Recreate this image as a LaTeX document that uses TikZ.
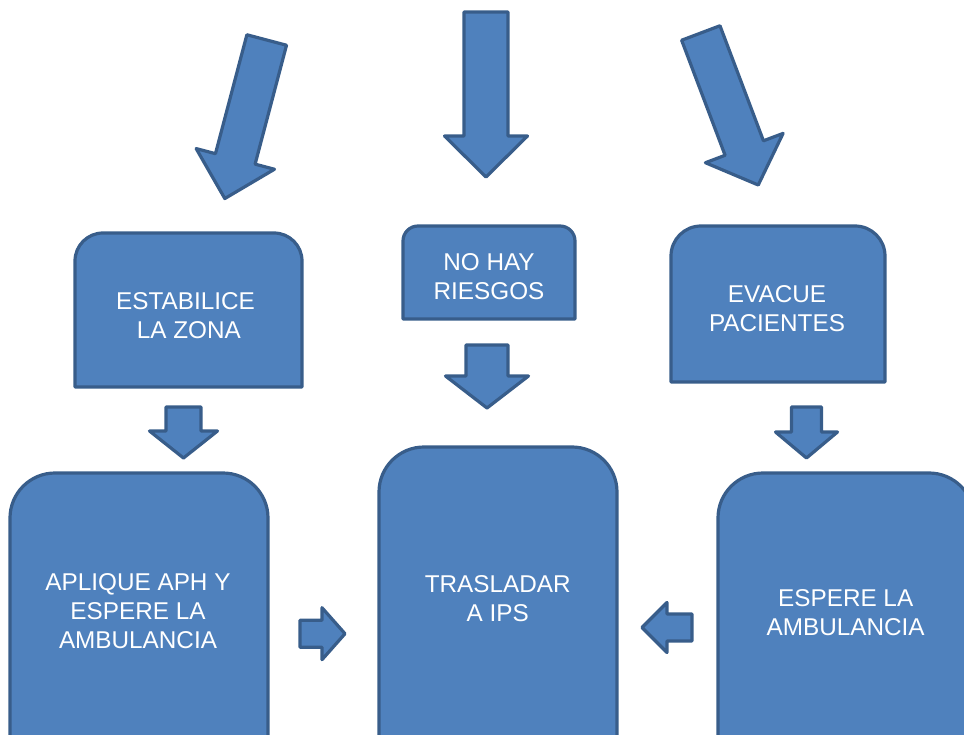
\documentclass[tikz,border=0pt]{standalone}
\usepackage{fontspec}
\setmainfont{Liberation Sans}
\definecolor{boxfill}{HTML}{4F81BD}
\definecolor{boxline}{HTML}{385D8A}
\tikzset{
  shapesty/.style={fill=boxfill, draw=boxline, line width=3.2pt, line join=round},
  boxtext/.style={text=white, font=\fontsize{24.3}{29}\selectfont, align=center, inner sep=0pt},
}
% box with rounded top corners: x1, y1 (top), x2, y2 (bottom), radius
\newcommand{\TRBox}[5]{\draw[shapesty] (#1,#4) -- (#1,#2+#5) arc[start angle=180,end angle=270,radius=#5] -- (#3-#5,#2) arc[start angle=270,end angle=360,radius=#5] -- (#3,#4) -- cycle;}
% block arrow: tail centre x, y, rotation, length, shaft width, head length, head width
\newcommand{\BArrow}[7]{\draw[shapesty, shift={(#1,#2)}, rotate=#3] (-#5/2,0) -- (-#5/2,#4-#6) -- (-#7/2,#4-#6) -- (0,#4) -- (#7/2,#4-#6) -- (#5/2,#4-#6) -- (#5/2,0) -- cycle;}
\begin{document}
\begin{tikzpicture}[x=1pt,y=-1pt]
\useasboundingbox (0,0) rectangle (964,735);
\clip (0,0) rectangle (964,735);

% top block arrows
\BArrow{266.7}{40}{-14.8}{164}{41}{41}{81}
\BArrow{486}{12}{0}{165}{44}{41}{83}
\BArrow{700.8}{33}{20.7}{162.5}{41}{39.5}{83}

% boxes
\TRBox{75}{233}{302}{387}{28}
\TRBox{403}{226}{575}{319}{15}
\TRBox{671}{226}{885}{382}{30}
\TRBox{10}{473}{268}{780}{45}
\TRBox{379}{447}{617}{780}{45}
\TRBox{718}{473}{974}{780}{45}

% small arrows
\BArrow{183.5}{407}{0}{51}{35}{27}{68}
\BArrow{487}{345}{0}{63}{42}{32}{83}
\BArrow{806.5}{407}{0}{51}{30}{26}{62}
\BArrow{300}{633.7}{90}{45}{27}{23}{52}
\BArrow{692}{627.5}{-90}{50}{27}{25}{50}

% texts
\node[boxtext] (estabilice) at (185.5,316) {ESTABILICE\\\hspace*{0.278em}LA ZONA};
\node[boxtext] (nohay) at (489,276.2) {NO HAY\\RIESGOS};
\node[boxtext] (evacue) at (777,308.6) {EVACUE\\PACIENTES};
\node[boxtext] (aplique) at (138,610.8) {APLIQUE APH Y\\ESPERE LA\\AMBULANCIA};
\node[boxtext] (trasladar) at (497.7,598.8) {TRASLADAR\\A IPS};
\node[boxtext] (espere) at (845.7,612.2) {ESPERE LA\\AMBULANCIA};
\end{tikzpicture}
\end{document}
